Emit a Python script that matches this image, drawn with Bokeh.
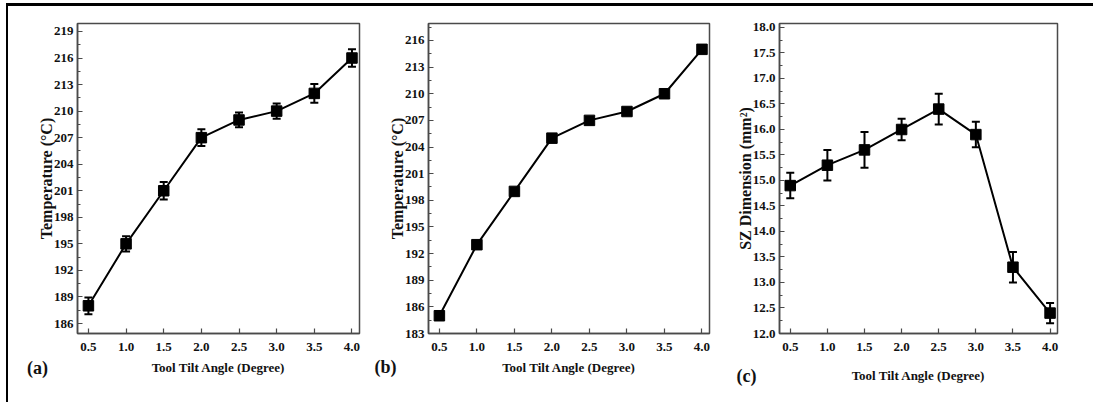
from bokeh.plotting import figure
from bokeh.models import (FixedTicker, NumeralTickFormatter, Label, ColumnDataSource, Whisker,
                          TeeHead, Range1d, Div)
from bokeh.layouts import row, column
from bokeh.embed import file_html
from bokeh.resources import INLINE

# ---- data ----
tilt_angle = [0.5, 1.0, 1.5, 2.0, 2.5, 3.0, 3.5, 4.0]

temp_a = [188, 195, 201, 207, 209, 210, 212, 216]
temp_a_err = [0.95, 0.85, 1.0, 0.95, 0.83, 0.85, 1.05, 0.98]

temp_b = [185, 193, 199, 205, 207, 208, 210, 215]

sz_c = [14.9, 15.3, 15.6, 16.0, 16.4, 15.9, 13.3, 12.4]
sz_c_err = [0.25, 0.3, 0.35, 0.21, 0.3, 0.25, 0.3, 0.2]

x_ticks = [0.5, 1.0, 1.5, 2.0, 2.5, 3.0, 3.5, 4.0]
y_ticks_a = [186, 189, 192, 195, 198, 201, 204, 207, 210, 213, 216, 219]
y_ticks_b = [183, 186, 189, 192, 195, 198, 201, 204, 207, 210, 213, 216]
y_ticks_c = [12.0, 12.5, 13.0, 13.5, 14.0, 14.5, 15.0, 15.5, 16.0, 16.5, 17.0, 17.5, 18.0]

FONT = "Liberation Serif"
FRAME = "#4a4a4a"


def make_panel(width, height, borders, yr, yticks, yfmt, ylabel, letter, letter_side, letter_xy,
               xtitle_standoff, y, err=None):
    lb, rb, tb, bb = borders
    p = figure(width=width, height=height, output_backend="svg", toolbar_location=None,
               x_range=Range1d(0.355, 4.1), y_range=Range1d(*yr),
               min_border_left=lb, min_border_right=rb, min_border_top=tb, min_border_bottom=bb)
    p.grid.visible = False
    p.outline_line_color = FRAME
    p.outline_line_width = 1.5
    p.background_fill_color = "white"
    p.border_fill_color = "white"

    step = yticks[1] - yticks[0]
    minors = [t + step / 2 for t in yticks] + [yticks[0] - step / 2]
    p.yaxis.ticker = FixedTicker(ticks=yticks, minor_ticks=minors)
    p.xaxis.ticker = FixedTicker(ticks=x_ticks)
    p.xaxis.formatter = NumeralTickFormatter(format="0.0")
    p.yaxis.formatter = NumeralTickFormatter(format=yfmt)

    for ax in (p.xaxis[0], p.yaxis[0]):
        ax.axis_line_color = FRAME
        ax.axis_line_width = 1.5
        ax.major_tick_line_color = FRAME
        ax.major_tick_line_width = 1.2
        ax.major_tick_in = 5
        ax.major_tick_out = 0
        ax.minor_tick_in = 3
        ax.minor_tick_out = 0
        ax.minor_tick_line_color = FRAME
        ax.major_label_text_font = FONT
        ax.major_label_text_font_style = "bold"
        ax.major_label_text_font_size = "13px"
        ax.major_label_text_color = "#111111"
        ax.axis_label_text_font = FONT
        ax.axis_label_text_font_style = "bold"
        ax.axis_label_text_color = "#111111"
    p.xaxis.minor_tick_line_color = None
    p.xaxis.major_label_standoff = 9
    p.yaxis.major_label_standoff = 4
    p.xaxis.axis_label = "Tool Tilt Angle (Degree)"
    p.xaxis.axis_label_text_font_size = "13px"
    p.xaxis.axis_label_standoff = xtitle_standoff
    p.yaxis.axis_label = ylabel
    p.yaxis.axis_label_text_font_size = "16px"
    p.yaxis.axis_label_standoff = -4

    src = dict(x=tilt_angle, y=y)
    if err is not None:
        src["lo"] = [v - e for v, e in zip(y, err)]
        src["hi"] = [v + e for v, e in zip(y, err)]
    source = ColumnDataSource(src)
    p.line("x", "y", source=source, line_color="black", line_width=2)
    if err is not None:
        w = Whisker(base="x", lower="lo", upper="hi", source=source,
                    line_color="black", line_width=2,
                    upper_head=TeeHead(size=8, line_color="black", line_width=2),
                    lower_head=TeeHead(size=8, line_color="black", line_width=2))
        p.add_layout(w)
    p.scatter("x", "y", source=source, marker="square", size=10.5,
              fill_color="black", line_color="black")

    p.add_layout(Label(x=letter_xy[0], y=letter_xy[1], x_units="screen", y_units="screen",
                       text=letter, text_font=FONT, text_font_style="bold",
                       text_font_size="18px", text_align="center", text_baseline="middle",
                       text_color="#111111"), letter_side)
    return p


pa = make_panel(354, 396, (69, 3, 17, 69), (184.87, 219.9), y_ticks_a, "0",
                "Temperature (°C)", "(a)", "left", (24, -34), 6, temp_a, temp_a_err)
pb = make_panel(366, 396, (66, 19, 17, 69), (183, 217.91), y_ticks_b, "0",
                "Temperature (°C)", "(b)", "left", (22, -33), 6, temp_b)
pc = make_panel(364, 396, (51, 35, 17, 69), (12.0, 18.078), y_ticks_c, "0.0",
                "SZ Dimension (mm²)", "(c)", "right", (-311, -42), 14, sz_c, sz_c_err)

top_bar = Div(text="", width=1087, height=3, margin=(3, 0, 0, 6),
              styles={"background-color": "black"})
left_bar = Div(text="", width=2, height=396, margin=(0, 0, 0, 6),
               styles={"background-color": "black"})

layout = column(top_bar, row(left_bar, pa, pb, pc, spacing=0), spacing=0)

open("out.html", "w").write(file_html(layout, INLINE))
